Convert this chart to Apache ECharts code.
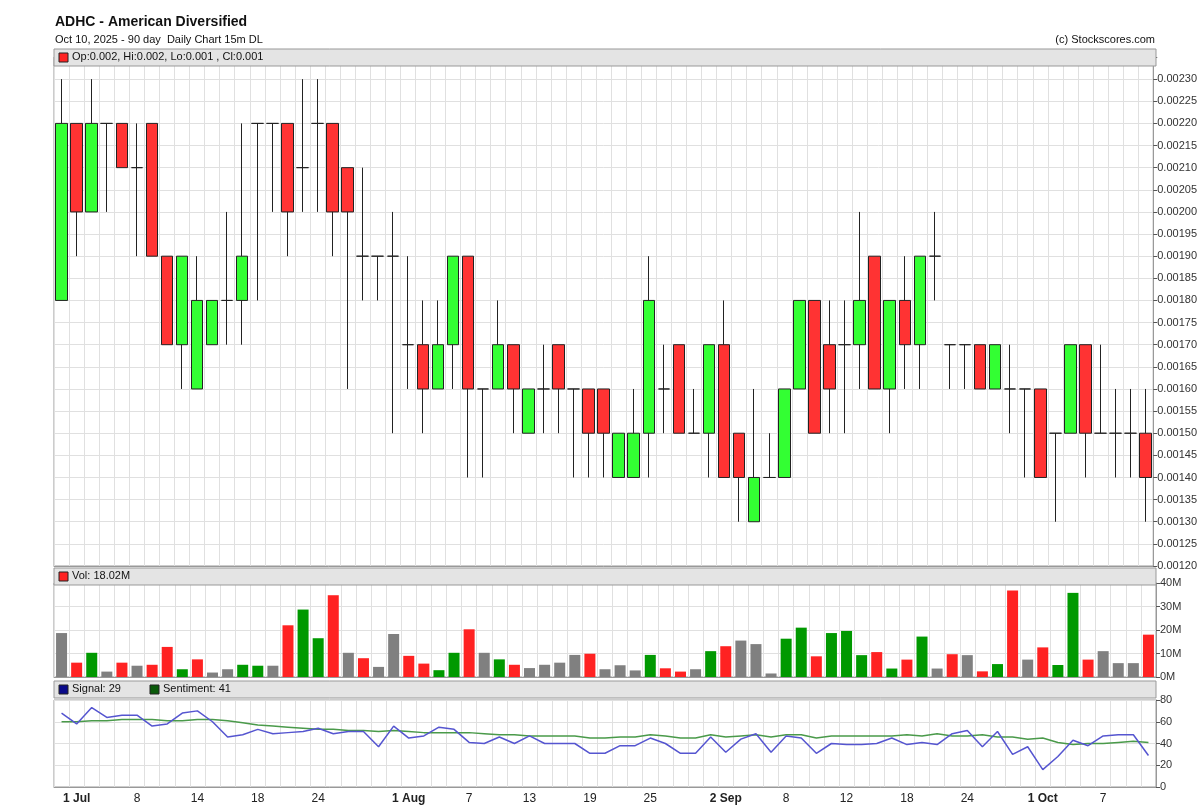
<!DOCTYPE html>
<html>
<head>
<meta charset="utf-8">
<script src="https://cdn.jsdelivr.net/npm/echarts@6/dist/echarts.min.js"></script>
<style>
  html, body { margin: 0; padding: 0; background: #fff; }
  #chart { width: 1200px; height: 810px; }
</style>
</head>
<body>
<div id="chart"></div>
<script>
// trading days, Jun 30 - Oct 10 2025
var dates = ['06-30','07-01','07-02','07-03','07-07','07-08','07-09','07-10','07-11','07-14','07-15','07-16','07-17','07-18',
  '07-21','07-22','07-23','07-24','07-25','07-28','07-29','07-30','07-31','08-01','08-04','08-05','08-06','08-07','08-08',
  '08-11','08-12','08-13','08-14','08-15','08-18','08-19','08-20','08-21','08-22','08-25','08-26','08-27','08-28','08-29',
  '09-02','09-03','09-04','09-05','09-08','09-09','09-10','09-11','09-12','09-15','09-16','09-17','09-18','09-19',
  '09-22','09-23','09-24','09-25','09-26','09-29','09-30','10-01','10-02','10-03','10-06','10-07','10-08','10-09','10-10'];

// x axis labels
var tickDates = ['07-01','07-08','07-14','07-18','07-24','08-01','08-07','08-13','08-19','08-25','09-02','09-08','09-12','09-18','09-24','10-01','10-07'];
var tickText  = ['1 Jul','8','14','18','24','1 Aug','7','13','19','25','2 Sep','8','12','18','24','1 Oct','7'];

var open = [0.0018,0.0022,0.0020,0.0022,0.0022,0.0021,0.0022,0.0019,0.0017,0.0016,0.0017,0.0018,0.0018,0.0022,0.0022,0.0022,0.0021,0.0022,
  0.0022,0.0021,0.0019,0.0019,0.0019,0.0017,0.0017,0.0016,0.0017,0.0019,0.0016,0.0016,0.0017,0.0015,0.0016,0.0017,0.0016,0.0016,
  0.0016,0.0014,0.0014,0.0015,0.0016,0.0017,0.0015,0.0015,0.0017,0.0015,0.0013,0.0014,0.0014,0.0016,0.0018,0.0017,0.0017,0.0017,
  0.0019,0.0016,0.0018,0.0017,0.0019,0.0017,0.0017,0.0017,0.0016,0.0016,0.0016,0.0016,0.0015,0.0015,0.0017,0.0015,0.0015,0.0015,0.0015];
var close = [0.0022,0.0020,0.0022,0.0022,0.0021,0.0021,0.0019,0.0017,0.0019,0.0018,0.0018,0.0018,0.0019,0.0022,0.0022,0.0020,0.0021,0.0022,
  0.0020,0.0020,0.0019,0.0019,0.0019,0.0017,0.0016,0.0017,0.0019,0.0016,0.0016,0.0017,0.0016,0.0016,0.0016,0.0016,0.0016,0.0015,
  0.0015,0.0015,0.0015,0.0018,0.0016,0.0015,0.0015,0.0017,0.0014,0.0014,0.0014,0.0014,0.0016,0.0018,0.0015,0.0016,0.0017,0.0018,
  0.0016,0.0018,0.0017,0.0019,0.0019,0.0017,0.0017,0.0016,0.0017,0.0016,0.0016,0.0014,0.0015,0.0017,0.0015,0.0015,0.0015,0.0015,0.0014];
var high = [0.0023,0.0022,0.0023,0.0022,0.0022,0.0022,0.0022,0.0019,0.0019,0.0019,0.0018,0.0020,0.0022,0.0022,0.0022,0.0022,0.0023,0.0023,
  0.0022,0.0021,0.0021,0.0019,0.0020,0.0019,0.0018,0.0018,0.0019,0.0019,0.0016,0.0018,0.0017,0.0016,0.0017,0.0017,0.0016,0.0016,
  0.0016,0.0015,0.0016,0.0019,0.0017,0.0017,0.0016,0.0017,0.0018,0.0015,0.0016,0.0015,0.0016,0.0018,0.0018,0.0018,0.0018,0.0020,
  0.0019,0.0018,0.0019,0.0019,0.0020,0.0017,0.0017,0.0017,0.0017,0.0017,0.0016,0.0016,0.0015,0.0017,0.0017,0.0017,0.0016,0.0016,0.0016];
var low = [0.0018,0.0019,0.0020,0.0020,0.0021,0.0019,0.0019,0.0017,0.0016,0.0016,0.0017,0.0017,0.0017,0.0018,0.0020,0.0019,0.0020,0.0020,
  0.0019,0.0016,0.0018,0.0018,0.0015,0.0016,0.0015,0.0016,0.0016,0.0014,0.0014,0.0016,0.0015,0.0015,0.0015,0.0015,0.0014,0.0014,
  0.0014,0.0014,0.0014,0.0014,0.0015,0.0015,0.0015,0.0014,0.0014,0.0013,0.0013,0.0014,0.0014,0.0016,0.0015,0.0015,0.0015,0.0016,
  0.0016,0.0015,0.0016,0.0016,0.0018,0.0016,0.0016,0.0016,0.0016,0.0015,0.0014,0.0014,0.0013,0.0015,0.0014,0.0015,0.0014,0.0014,0.0013];

// volume in millions, colour: r = down, g = up, n = unchanged
var volume = [18.7,6.1,10.3,2.3,6.1,4.8,5.2,12.8,3.3,7.5,1.9,3.3,5.2,4.8,4.8,22.0,28.7,16.5,34.8,10.3,8.0,4.3,18.3,9.0,5.7,2.9,10.3,20.3,
  10.3,7.5,5.2,3.8,5.2,6.1,9.4,9.9,3.3,5.0,2.8,9.4,3.7,2.3,3.3,11.0,13.1,15.5,14.0,1.5,16.3,21.0,8.8,18.7,19.6,9.3,10.6,3.6,7.4,
  17.2,3.6,9.7,9.3,2.4,5.5,36.8,7.4,12.6,5.1,35.8,7.4,11.0,5.9,5.9,18.02];
var volColor = ['n','r','g','n','r','n','r','r','g','r','n','n','g','g','n','r','g','g','r','n','r','n','n','r','r','g','g','r',
  'n','g','r','n','n','n','n','r','n','n','n','g','r','r','n','g','r','n','n','n','g','g','r','g','g','g','r','g','r',
  'g','n','r','n','r','g','r','n','r','g','g','r','n','n','n','r'];

var signal = [68,58,73,64,66,66,56,58,68,70,60,46,48,53,49,50,51,54,49,51,51,37,56,45,47,55,53,41,40,46,40,47,40,40,40,31,31,38,
  38,45,40,31,31,46,32,44,49,32,47,45,31,40,39,39,40,45,39,41,39,49,52,37,51,30,37,16,28,43,38,47,48,48,29];
var sentiment = [60,60,61,61,62,62,62,61,61,62,62,61,59,57,56,55,54,53,53,52,52,51,52,51,50,50,50,50,49,48,48,47,47,47,47,45,45,46,
  46,48,47,45,45,48,46,47,48,46,48,48,45,47,47,47,47,47,48,47,49,47,47,48,46,46,44,45,41,39,40,40,41,42,41];

var colorMap = { r: '#ff2222', g: '#009900', n: '#808080' };

var chart = echarts.init(document.getElementById('chart'));

var gridL = 54, gridR = 44;
var grids = [
  { left: gridL, right: gridR, top: 57, height: 509 },
  { left: gridL, right: gridR, top: 583, height: 94 },
  { left: gridL, right: gridR, top: 700, height: 87 }
];
grids.forEach(function (g) { g.show = true; g.borderColor = '#999'; g.borderWidth = 1; g.backgroundColor = '#fff'; });

function xAxisFor(i, showLabels) {
  return {
    type: 'category', gridIndex: i, data: dates, boundaryGap: true,
    axisLine: { lineStyle: { color: '#999' } },
    axisTick: { show: false },
    splitLine: { show: true, interval: 0, lineStyle: { color: '#e0e0e0' } },
    axisLabel: {
      show: showLabels, interval: 0, color: '#222', fontSize: 12, margin: 6,
      formatter: function (v) {
        var k = tickDates.indexOf(v);
        if (k < 0) return '';
        return tickText[k].indexOf(' ') > 0 ? '{b|' + tickText[k] + '}' : tickText[k];
      },
      rich: { b: { fontWeight: 'bold', fontSize: 12, color: '#222' } }
    }
  };
}

function yAxisFor(i, min, max, interval, fmt) {
  return {
    type: 'value', gridIndex: i, position: 'right', min: min, max: max, interval: interval,
    axisLine: { show: true, lineStyle: { color: '#999' } },
    axisTick: { show: true, length: 4, lineStyle: { color: '#555' } },
    splitLine: { lineStyle: { color: '#e0e0e0' } },
    axisLabel: { color: '#333', fontSize: 11, margin: 4, formatter: fmt }
  };
}

var ohlc = dates.map(function (d, i) { return [open[i], close[i], low[i], high[i]]; });

var option = {
  animation: false,
  textStyle: { fontFamily: 'Liberation Sans, Arial, sans-serif' },
  grid: grids,
  xAxis: [xAxisFor(0, false), xAxisFor(1, false), xAxisFor(2, true)],
  yAxis: [
    yAxisFor(0, 0.0012, 0.00235, 0.00005, function (v) { return v > 0.002305 ? '' : v.toFixed(5); }),
    yAxisFor(1, 0, 40, 10, function (v) { return v + 'M'; }),
    yAxisFor(2, 0, 80, 20, function (v) { return v; })
  ],
  series: [
    {
      type: 'candlestick', xAxisIndex: 0, yAxisIndex: 0, data: ohlc, barWidth: 12,
      itemStyle: { color: '#33ff33', color0: '#ff3333', borderColor: '#222', borderColor0: '#222', borderWidth: 1 }
    },
    {
      type: 'bar', xAxisIndex: 1, yAxisIndex: 1, barWidth: 11,
      data: volume.map(function (v, i) { return { value: v, itemStyle: { color: colorMap[volColor[i]] } }; })
    },
    {
      type: 'line', xAxisIndex: 2, yAxisIndex: 2, data: sentiment, symbol: 'none',
      lineStyle: { color: '#4a9a4a', width: 1.5 }
    },
    {
      type: 'line', xAxisIndex: 2, yAxisIndex: 2, data: signal, symbol: 'none',
      lineStyle: { color: '#5555d0', width: 1.5 }
    }
  ],
  graphic: [
    { type: 'text', left: 55, top: 15, style: { text: 'ADHC - American Diversified', font: 'bold 14px Liberation Sans, Arial', fill: '#111' } },
    { type: 'text', left: 55, top: 34, style: { text: 'Oct 10, 2025 - 90 day  Daily Chart 15m DL', font: '11px Liberation Sans, Arial', fill: '#111' } },
    { type: 'text', right: 45, top: 34, style: { text: '(c) Stockscores.com', font: '11px Liberation Sans, Arial', fill: '#111', align: 'right' } },
    // panel header strips
    { type: 'rect', shape: { x: gridL, y: 49, width: 1200 - gridL - gridR, height: 17 }, style: { fill: '#e4e4e4', stroke: '#999' }, z: 10 },
    { type: 'rect', shape: { x: gridL + 5, y: 53, width: 9, height: 9 }, style: { fill: '#ff2222', stroke: '#222' }, z: 11 },
    { type: 'text', x: gridL + 18, y: 51, style: { text: 'Op:0.002, Hi:0.002, Lo:0.001 , Cl:0.001', font: '11px Liberation Sans, Arial', fill: '#111' }, z: 11 },
    { type: 'rect', shape: { x: gridL, y: 568, width: 1200 - gridL - gridR, height: 17 }, style: { fill: '#e4e4e4', stroke: '#999' }, z: 10 },
    { type: 'rect', shape: { x: gridL + 5, y: 572, width: 9, height: 9 }, style: { fill: '#ff2222', stroke: '#222' }, z: 11 },
    { type: 'text', x: gridL + 18, y: 570, style: { text: 'Vol: 18.02M', font: '11px Liberation Sans, Arial', fill: '#111' }, z: 11 },
    { type: 'rect', shape: { x: gridL, y: 681, width: 1200 - gridL - gridR, height: 17 }, style: { fill: '#e4e4e4', stroke: '#999' }, z: 10 },
    { type: 'rect', shape: { x: gridL + 5, y: 685, width: 9, height: 9 }, style: { fill: '#0a0a8a', stroke: '#222' }, z: 11 },
    { type: 'text', x: gridL + 18, y: 683, style: { text: 'Signal: 29', font: '11px Liberation Sans, Arial', fill: '#111' }, z: 11 },
    { type: 'rect', shape: { x: gridL + 96, y: 685, width: 9, height: 9 }, style: { fill: '#0a5a0a', stroke: '#222' }, z: 11 },
    { type: 'text', x: gridL + 109, y: 683, style: { text: 'Sentiment: 41', font: '11px Liberation Sans, Arial', fill: '#111' }, z: 11 }
  ]
};

chart.setOption(option);
</script>
</body>
</html>
